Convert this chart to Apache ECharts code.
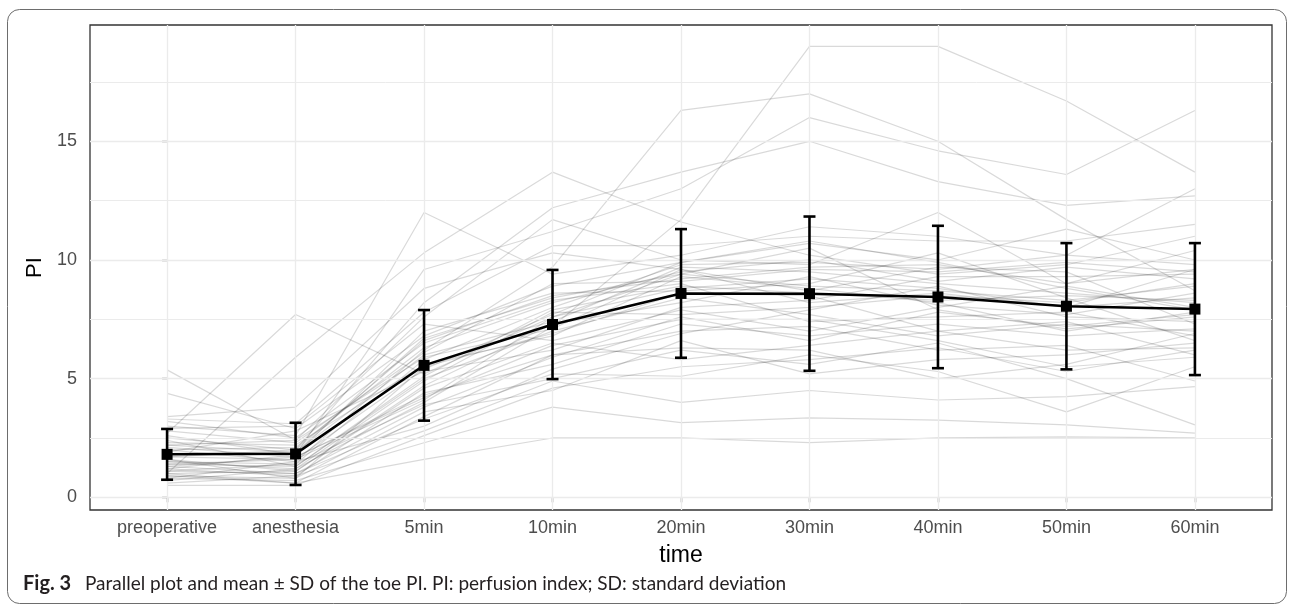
<!DOCTYPE html>
<html>
<head>
<meta charset="utf-8">
<script src="https://cdn.jsdelivr.net/npm/echarts@6/dist/echarts.min.js"></script>
<style>
html,body{margin:0;padding:0;background:#fff;}
#chart{width:1292px;height:605px;}
</style>
</head>
<body>
<div id="chart"></div>
<script>
// ---- data ----
const categories = ['preoperative','anesthesia','5min','10min','20min','30min','40min','50min','60min'];
const yTickValues = [0, 5, 10, 15];
const yMinorValues = [2.5, 7.5, 12.5, 17.5];
// mean and SD of toe PI at each time point
const meanPI = [1.81, 1.83, 5.56, 7.28, 8.59, 8.58, 8.44, 8.05, 7.93];
const sdPI   = [1.07, 1.31, 2.33, 2.30, 2.71, 3.25, 3.00, 2.66, 2.78];
// individual patients (parallel plot), one row per patient
const patientPI = [
  [1.5, 1.2, 4.0, 7.2, 11.7, 19.0, 19.0, 16.7, 13.7],
  [2.0, 1.5, 6.2, 9.7, 16.3, 17.0, 15.0, 11.7, 8.7],
  [1.2, 1.8, 9.6, 11.2, 13.0, 16.0, 14.6, 13.6, 16.3],
  [2.5, 2.0, 8.2, 12.2, 13.7, 15.0, 13.3, 12.3, 12.7],
  [3.0, 2.6, 12.0, 9.4, 10.2, 11.4, 11.0, 10.2, 13.0],
  [1.0, 5.9, 10.3, 13.7, 11.6, 10.2, 9.4, 9.8, 11.0],
  [2.7, 7.7, 5.2, 7.6, 8.8, 9.2, 8.8, 8.0, 8.4],
  [5.37, 2.4, 7.6, 11.7, 10.0, 9.8, 12.0, 9.0, 9.6],
  [4.38, 2.9, 6.8, 8.9, 9.9, 10.7, 10.0, 11.3, 10.0],
  [3.4, 3.8, 8.8, 10.3, 9.6, 8.7, 9.7, 9.5, 7.3],
  [0.8, 0.7, 2.3, 3.8, 3.15, 3.35, 3.25, 3.05, 2.7],
  [1.0, 0.6, 1.6, 2.5, 2.5, 2.3, 2.5, 2.55, 2.5],
  [0.6, 0.9, 2.8, 4.9, 4.0, 4.5, 4.1, 4.24, 4.66],
  [1.3, 1.0, 3.3, 5.2, 5.1, 6.0, 5.3, 3.6, 5.5],
  [1.1, 1.4, 3.9, 5.0, 6.2, 5.6, 6.5, 5.0, 3.05],
  [2.1, 1.7, 4.3, 6.0, 7.0, 7.2, 6.2, 6.4, 4.9],
  [1.6, 1.1, 4.6, 6.5, 5.8, 6.4, 7.0, 7.4, 6.0],
  [0.9, 0.8, 3.6, 4.5, 6.6, 5.2, 5.8, 6.0, 6.5],
  [1.4, 1.3, 5.0, 7.0, 8.4, 7.7, 6.8, 7.3, 7.0],
  [2.3, 2.2, 5.6, 6.8, 9.3, 8.8, 8.2, 7.0, 7.8],
  [1.8, 1.9, 6.0, 7.4, 9.7, 9.5, 9.0, 8.6, 8.2],
  [0.7, 1.2, 4.9, 7.8, 7.7, 8.0, 8.5, 8.2, 9.0],
  [3.2, 2.5, 6.5, 8.3, 9.0, 7.4, 7.6, 7.8, 6.8],
  [1.9, 2.8, 5.3, 6.2, 8.0, 8.3, 9.3, 9.3, 9.4],
  [1.7, 1.6, 4.1, 7.6, 9.4, 10.5, 7.9, 7.1, 7.6],
  [2.6, 1.8, 7.0, 8.6, 8.7, 9.0, 10.3, 8.4, 6.6],
  [1.2, 0.9, 4.4, 5.6, 7.3, 6.8, 7.3, 6.8, 7.1],
  [1.5, 1.4, 5.8, 8.0, 9.8, 9.9, 9.6, 10.2, 9.8],
  [2.9, 3.0, 7.3, 6.6, 7.9, 7.0, 8.0, 8.9, 8.0],
  [0.8, 1.5, 3.0, 5.4, 6.9, 7.9, 8.9, 7.6, 7.4],
  [1.0, 1.1, 4.7, 7.3, 8.2, 9.3, 8.1, 7.7, 8.6],
  [2.0, 2.1, 6.3, 8.2, 9.5, 10.0, 9.1, 9.7, 9.2],
  [1.6, 0.8, 5.5, 6.9, 8.6, 8.5, 7.0, 6.2, 6.3],
  [2.2, 2.4, 5.9, 7.1, 9.6, 8.2, 8.6, 8.0, 9.6],
  [1.3, 1.7, 4.2, 6.4, 7.5, 7.5, 6.6, 5.5, 5.9],
  [0.9, 0.6, 3.4, 6.0, 6.3, 6.2, 5.0, 5.6, 6.9],
  [1.7, 2.0, 6.6, 8.5, 9.2, 9.7, 9.8, 9.0, 10.4],
  [2.4, 1.3, 5.1, 7.9, 8.9, 8.6, 8.3, 8.5, 8.3],
  [1.1, 1.0, 3.8, 5.9, 7.6, 6.6, 7.8, 7.2, 7.7],
  [2.8, 2.3, 6.1, 9.0, 9.1, 9.6, 9.5, 9.9, 9.5],
  [0.5, 0.5, 2.6, 4.6, 5.5, 5.8, 6.3, 5.3, 6.2],
  [1.4, 1.6, 5.4, 7.7, 9.9, 10.8, 9.9, 8.8, 7.9],
  [3.3, 3.1, 7.8, 10.6, 10.6, 11.0, 10.8, 10.8, 11.5],
  [2.2, 1.9, 6.7, 8.4, 9.4, 8.9, 8.7, 8.3, 8.9]
];

// ---- chart ----
const chart = echarts.init(document.getElementById('chart'), null, {renderer: 'canvas'});
const catIdx = categories.map((c, i) => i);
const FONT = '"Liberation Sans", Arial, Helvetica, sans-serif';

const gridLines = [];
yTickValues.forEach(v => gridLines.push({yAxis: v, lineStyle: {width: 1.3}}));
yMinorValues.forEach(v => gridLines.push({yAxis: v, lineStyle: {width: 1.0}}));
catIdx.forEach(i => gridLines.push({xAxis: i, lineStyle: {width: 1.3}}));

const series = [];
series.push({
  type: 'line', z: 1, silent: true, symbol: 'none',
  data: meanPI.map((v, i) => [i, v]),
  lineStyle: {opacity: 0},
  markLine: {
    silent: true, symbol: ['none', 'none'], label: {show: false},
    lineStyle: {color: '#EBEBEB', type: 'solid'},
    emphasis: {disabled: true},
    animation: false,
    data: gridLines
  }
});
patientPI.forEach(row => {
  series.push({
    type: 'line', z: 2, silent: true, symbol: 'none',
    data: row.map((v, i) => [i, v]),
    lineStyle: {color: 'rgba(0,0,0,0.15)', width: 1.2},
    emphasis: {disabled: true}
  });
});
series.push({
  type: 'custom', z: 5, silent: true,
  data: meanPI.map((m, i) => [i, m - sdPI[i], m + sdPI[i]]),
  renderItem: function (params, api) {
    const x = api.value(0);
    const lo = api.coord([x, api.value(1)]);
    const hi = api.coord([x, api.value(2)]);
    const w = 6;
    const st = {stroke: '#000', lineWidth: 2.6};
    return {
      type: 'group',
      children: [
        {type: 'line', shape: {x1: lo[0], y1: lo[1], x2: hi[0], y2: hi[1]}, style: st},
        {type: 'line', shape: {x1: lo[0] - w, y1: lo[1], x2: lo[0] + w, y2: lo[1]}, style: st},
        {type: 'line', shape: {x1: hi[0] - w, y1: hi[1], x2: hi[0] + w, y2: hi[1]}, style: st}
      ]
    };
  }
});
series.push({
  type: 'line', z: 6, silent: true,
  data: meanPI.map((v, i) => [i, v]),
  symbol: 'rect', symbolSize: 11,
  itemStyle: {color: '#000'},
  lineStyle: {color: '#000', width: 2.5},
  emphasis: {disabled: true}
});

const option = {
  animation: false,
  backgroundColor: '#ffffff',
  grid: {left: 90, right: 20, top: 25, bottom: 95, show: true, borderColor: '#333333', borderWidth: 1.3, backgroundColor: 'transparent', containLabel: false},
  xAxis: {
    type: 'value', min: -0.6, max: 8.6,
    name: 'time', nameLocation: 'middle', nameGap: 34,
    nameTextStyle: {fontFamily: FONT, fontSize: 23, color: '#000'},
    axisLine: {show: false},
    splitLine: {show: false},
    axisTick: {show: true, length: 5, customValues: catIdx, lineStyle: {color: '#333333', width: 1.3}},
    axisLabel: {customValues: catIdx, formatter: v => categories[Math.round(v)], fontFamily: FONT, fontSize: 18, color: '#4D4D4D', margin: 9}
  },
  yAxis: {
    type: 'value', min: -0.535, max: 19.9,
    name: 'PI', nameLocation: 'middle', nameGap: 43,
    nameTextStyle: {fontFamily: FONT, fontSize: 22, color: '#000'},
    axisLine: {show: false},
    splitLine: {show: false},
    axisTick: {show: true, length: 5, customValues: yTickValues, lineStyle: {color: '#333333', width: 1.3}},
    axisLabel: {customValues: yTickValues, fontFamily: FONT, fontSize: 18, color: '#4D4D4D', margin: 13}
  },
  graphic: [
    {type: 'rect', z: -10, silent: true, shape: {x: 7.5, y: 9.5, width: 1279, height: 594, r: 12},
     style: {fill: 'none', stroke: '#6d6d6d', lineWidth: 1}},
    {type: 'text', left: 23, top: 574, silent: true,
     style: {text: 'Fig. 3', font: 'bold 20px Lato, "Open Sans", sans-serif', fill: '#231F20'}},
    {type: 'text', left: 85, top: 574, silent: true,
     style: {text: 'Parallel plot and mean ± SD of the toe PI. PI: perfusion index; SD: standard deviation', font: '19px Lato, "Open Sans", sans-serif', fill: '#231F20'}}
  ],
  series: series
};
chart.setOption(option);
</script>
</body>
</html>
